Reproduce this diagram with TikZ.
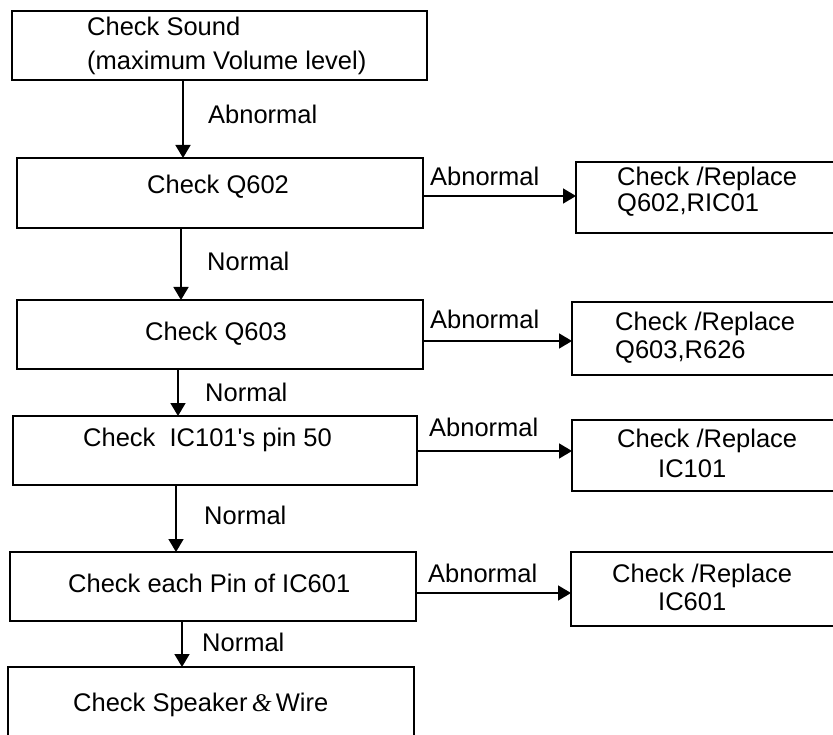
\documentclass[tikz,border=0pt]{standalone}
\usepackage{fontspec}
\setmainfont{Liberation Sans}
\newfontfamily\ampfont{Liberation Serif}
\usetikzlibrary{arrows.meta}
\begin{document}
\begin{tikzpicture}[x=1pt,y=-1pt,
  box/.style={draw, line width=1.6pt, inner sep=0pt, outer sep=0pt, anchor=north west},
  openbox/.style={draw=none, inner sep=0pt, outer sep=0pt, anchor=north west},
  txt/.style={inner sep=0pt, anchor=base west, font=\fontsize{25.5}{30}\selectfont},
  edge/.style={line width=1.6pt},
  arr/.style={line width=1.6pt, -{Triangle[length=13pt,width=15pt]}}]
\useasboundingbox (0,0) rectangle (833,735);
\clip (0,0) rectangle (833,735);

% main column boxes
\node[box, minimum width=415pt, minimum height=69pt] (b1) at (12,11) {};
\node[box, minimum width=406pt, minimum height=70pt] (b2) at (17,158) {};
\node[box, minimum width=406pt, minimum height=69pt] (b3) at (17,300) {};
\node[box, minimum width=404pt, minimum height=69pt] (b4) at (13,416) {};
\node[box, minimum width=406pt, minimum height=69pt] (b5) at (10,552) {};
\node[openbox, minimum width=406pt, minimum height=68pt] (b6) at (8,667) {};
\draw[edge] (b6.south west) -- (b6.north west) -- (b6.north east) -- (b6.south east);

% right column boxes (cut by the right edge)
\node[openbox, minimum width=257pt, minimum height=71pt] (r1) at (576,162) {};
\node[openbox, minimum width=261pt, minimum height=73pt] (r2) at (572,302) {};
\node[openbox, minimum width=261pt, minimum height=71pt] (r3) at (572,420) {};
\node[openbox, minimum width=262pt, minimum height=74pt] (r4) at (571,552) {};
\foreach \r in {r1,r2,r3,r4}{
  \draw[edge] (\r.north east) -- (\r.north west) -- (\r.south west) -- (\r.south east);
}

% texts in boxes
\node[txt] (t1a) at (87,36) {Check Sound};
\node[txt] (t1b) at (87,70) {(maximum Volume level)};
\node[txt] (t2) at (147,194) {Check Q602};
\node[txt] (t3) at (145,341) {Check Q603};
\node[txt] (t4) at (83,446) {Check\ \ IC101\textquotesingle s pin 50};
\node[txt] (t5) at (68,592) {Check each Pin of IC601};
\node[txt] (t6) at (73,711) {Check Speaker\,{\ampfont\itshape\&}\,Wire};

\node[txt] (s1a) at (617,186) {Check /Replace};
\node[txt] (s1b) at (617,212) {Q602,RIC01};
\node[txt] (s2a) at (615,331) {Check /Replace};
\node[txt] (s2b) at (615,359) {Q603,R626};
\node[txt] (s3a) at (617,447) {Check /Replace};
\node[txt] (s3b) at (658,477) {IC101};
\node[txt] (s4a) at (612,582) {Check /Replace};
\node[txt] (s4b) at (658,610) {IC601};

% vertical connectors
\coordinate (v1) at (183,0);
\coordinate (v2) at (181,0);
\coordinate (v3) at (178,0);
\coordinate (v4) at (176,0);
\coordinate (v5) at (182,0);
\draw[arr] (b1.south -| v1) -- (b2.north -| v1);
\draw[arr] (b2.south -| v2) -- (b3.north -| v2);
\draw[arr] (b3.south -| v3) -- (b4.north -| v3);
\draw[arr] (b4.south -| v4) -- (b5.north -| v4);
\draw[arr] (b5.south -| v5) -- (b6.north -| v5);

% horizontal connectors
\coordinate (h1) at (0,196);
\coordinate (h2) at (0,341);
\coordinate (h3) at (0,451);
\coordinate (h4) at (0,593);
\draw[arr] (b2.east |- h1) -- (r1.west |- h1);
\draw[arr] (b3.east |- h2) -- (r2.west |- h2);
\draw[arr] (b4.east |- h3) -- (r3.west |- h3);
\draw[arr] (b5.east |- h4) -- (r4.west |- h4);

% connector labels
\node[txt] (l1) at (208,124) {Abnormal};
\node[txt] (l2) at (207,271) {Normal};
\node[txt] (l3) at (205,401) {Normal};
\node[txt] (l4) at (204,524) {Normal};
\node[txt] (l5) at (202,651) {Normal};
\node[txt] (m1) at (430,186) {Abnormal};
\node[txt] (m2) at (430,329) {Abnormal};
\node[txt] (m3) at (429,436) {Abnormal};
\node[txt] (m4) at (428,582) {Abnormal};
\end{tikzpicture}
\end{document}
